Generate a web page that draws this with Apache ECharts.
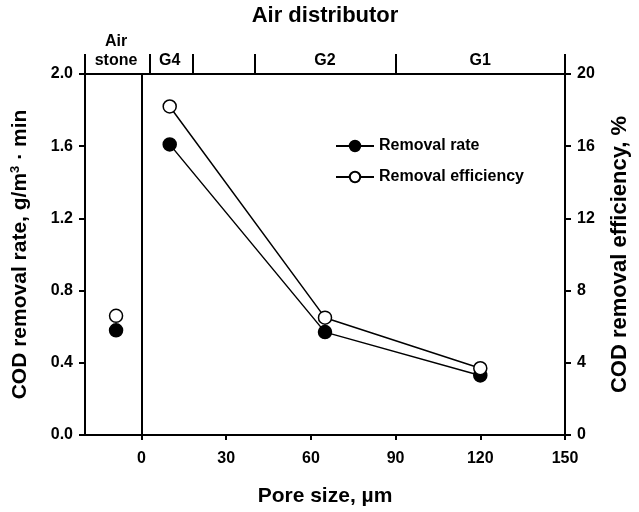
<!DOCTYPE html>
<html>
<head>
<meta charset="utf-8">
<script src="https://cdn.jsdelivr.net/npm/echarts@6/dist/echarts.min.js"></script>
<style>
  html, body { margin: 0; padding: 0; background: #fff; }
  #chart { width: 639px; height: 512px; }
</style>
</head>
<body>
<div id="chart"></div>
<script>
// pore size (um) of each air distributor
const poreSize = [10, 65, 120];
const removalRate = [1.61, 0.57, 0.33];
const removalEff = [18.2, 6.5, 3.7];

// air stone is drawn left of zero, not connected
const airStoneX = -9;
const airStoneRate = 0.58;
const airStoneEff = 6.6;

const xTicks = [0, 30, 60, 90, 120, 150];
const distributorBounds = [-20, 3, 18, 40, 90, 150];
const distributorLabelPos = [-9, 10, 65, 120];
const distributorLabels = ['Air\nstone', 'G4', 'G2', 'G1'];

const font = '"Liberation Sans", Arial, sans-serif';

const chart = echarts.init(document.getElementById('chart'));

const black = '#000';
const axisLine = { show: true, onZero: false, lineStyle: { color: black, width: 2 } };
const tickStyle = { color: black, width: 2 };

chart.setOption({
    animation: false,
    backgroundColor: '#fff',
    textStyle: { fontFamily: font },
    grid: { left: 85, right: 68, top: 74, bottom: 75 },
    legend: {
        data: ['Removal rate', 'Removal efficiency'],
        orient: 'vertical',
        left: 330,
        top: 133,
        itemWidth: 38,
        itemHeight: 13,
        itemGap: 15,
        textStyle: { color: black, fontWeight: 'bold', fontSize: 16, fontFamily: font }
    },
    xAxis: [
        {
            type: 'value',
            position: 'bottom',
            min: -20,
            max: 150,
            axisLine: axisLine,
            splitLine: { show: false },
            axisTick: { show: true, customValues: xTicks, length: 5, lineStyle: tickStyle },
            axisLabel: {
                customValues: xTicks,
                color: black, fontWeight: 'bold', fontSize: 16, margin: 16
            },
            name: 'Pore size, \u00b5m',
            nameLocation: 'middle',
            nameGap: 51,
            nameTextStyle: { color: black, fontWeight: 'bold', fontSize: 21 }
        },
        {
            type: 'value',
            position: 'top',
            min: -20,
            max: 150,
            axisLine: axisLine,
            splitLine: { show: false },
            axisTick: { show: true, customValues: distributorBounds, length: 20, lineStyle: tickStyle },
            axisLabel: {
                customValues: distributorLabelPos,
                formatter: v => distributorLabels[distributorLabelPos.indexOf(v)],
                color: black, fontWeight: 'bold', fontSize: 16, lineHeight: 19, margin: 4
            },
            name: 'Air distributor',
            nameLocation: 'middle',
            nameGap: 41,
            nameTextStyle: { color: black, fontWeight: 'bold', fontSize: 22 }
        }
    ],
    yAxis: [
        {
            type: 'value',
            min: 0,
            max: 2,
            interval: 0.4,
            axisLine: axisLine,
            splitLine: { show: false },
            axisTick: { show: true, length: 6, lineStyle: tickStyle },
            axisLabel: { color: black, fontWeight: 'bold', fontSize: 16, margin: 12, formatter: v => v.toFixed(1) },
            name: 'COD removal rate, g/m{sup|3} \u00b7 min',
            nameLocation: 'middle',
            nameGap: 53,
            nameTextStyle: {
                color: black, fontWeight: 'bold', fontSize: 21,
                rich: { sup: { fontSize: 13, fontWeight: 'bold', color: black, verticalAlign: 'top', padding: [0, 0, 10, 0] } }
            }
        },
        {
            type: 'value',
            min: 0,
            max: 20,
            interval: 4,
            position: 'right',
            axisLine: axisLine,
            splitLine: { show: false },
            axisTick: { show: true, length: 6, lineStyle: tickStyle },
            axisLabel: { color: black, fontWeight: 'bold', fontSize: 16, margin: 12 },
            name: 'COD removal efficiency, %',
            nameLocation: 'middle',
            nameGap: 44,
            nameTextStyle: { color: black, fontWeight: 'bold', fontSize: 22 }
        }
    ],
    series: [
        {
            name: 'Removal rate',
            type: 'line',
            data: poreSize.map((x, i) => [x, removalRate[i]]),
            symbol: 'circle',
            symbolSize: 13,
            itemStyle: { color: black, borderColor: black, borderWidth: 1.5 },
            lineStyle: { color: black, width: 1.5 },
            markLine: {
                silent: true,
                symbol: 'none',
                label: { show: false },
                lineStyle: { color: black, width: 2, type: 'solid' },
                data: [{ xAxis: 0 }]
            },
            z: 3
        },
        {
            name: 'Removal efficiency',
            type: 'line',
            yAxisIndex: 1,
            data: poreSize.map((x, i) => [x, removalEff[i]]),
            symbol: 'circle',
            symbolSize: 13,
            itemStyle: { color: '#fff', borderColor: black, borderWidth: 1.5 },
            lineStyle: { color: black, width: 1.5 },
            z: 3
        },
        {
            name: 'Air stone rate',
            type: 'scatter',
            data: [[airStoneX, airStoneRate]],
            symbolSize: 13,
            itemStyle: { color: black, borderColor: black, borderWidth: 1.5, opacity: 1 }
        },
        {
            name: 'Air stone efficiency',
            type: 'scatter',
            yAxisIndex: 1,
            data: [[airStoneX, airStoneEff]],
            symbolSize: 13,
            itemStyle: { color: '#fff', borderColor: black, borderWidth: 1.5, opacity: 1 }
        }
    ]
});
</script>
</body>
</html>
